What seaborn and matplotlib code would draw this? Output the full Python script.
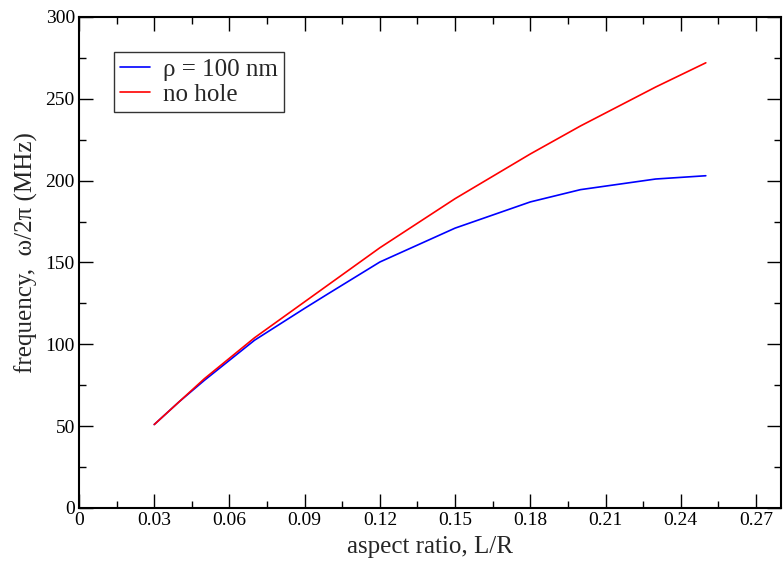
import matplotlib
matplotlib.use("Agg")
import matplotlib.pyplot as plt
import seaborn as sns
import pandas as pd
from matplotlib.ticker import MultipleLocator

# Data
x_hole = [0.03, 0.04, 0.05, 0.07, 0.09, 0.10, 0.12, 0.15, 0.18, 0.20, 0.23, 0.25]
y_hole = [51, 65, 78, 102.5, 122, 131.5, 150.3, 171, 187, 194.5, 201, 203]
x_nohole = [0.03, 0.04, 0.05, 0.07, 0.09, 0.10, 0.12, 0.15, 0.18, 0.20, 0.23, 0.25]
y_nohole = [51, 65, 79, 104, 126, 137, 159, 189, 216.3, 233.4, 257.2, 272]
series_names = ["ρ = 100 nm", "no hole"]
x_ticks = [0, 0.03, 0.06, 0.09, 0.12, 0.15, 0.18, 0.21, 0.24, 0.27]
x_tick_labels = ["0", "0.03", "0.06", "0.09", "0.12", "0.15", "0.18", "0.21", "0.24", "0.27"]
y_ticks = [0, 50, 100, 150, 200, 250, 300]

df = pd.concat([
    pd.DataFrame({"x": x_hole, "y": y_hole, "series": series_names[0]}),
    pd.DataFrame({"x": x_nohole, "y": y_nohole, "series": series_names[1]}),
])

sns.set_theme(style="ticks")
plt.rcParams['font.family'] = ['Liberation Serif', 'DejaVu Serif']

fig = plt.figure(figsize=(7.84, 5.64), dpi=100)
ax = fig.add_axes([0.1008, 0.0993, 0.8954, 0.8706])

sns.lineplot(data=df, x="x", y="y", hue="series", palette=["#0000ff", "#ff0000"],
             linewidth=1.2, ax=ax, sort=False, estimator=None)

ax.set_xlim(0, 0.28)
ax.set_ylim(0, 300)
ax.set_xticks(x_ticks)
ax.set_xticklabels(x_tick_labels)
ax.set_yticks(y_ticks)
ax.xaxis.set_minor_locator(MultipleLocator(0.015))
ax.yaxis.set_minor_locator(MultipleLocator(25))
ax.tick_params(which="both", direction="in", top=True, right=True, colors="black",
               labelsize=14, pad=3)
ax.tick_params(which="major", length=10, width=1.0)
ax.tick_params(which="minor", length=5, width=1.0)
for s in ax.spines.values():
    s.set_linewidth(1.5)
    s.set_color("black")

ax.set_xlabel("aspect ratio, L/R", fontsize=18, labelpad=5)
ax.set_ylabel("frequency,  ω/2π (MHz)", fontsize=18)
ax.yaxis.set_label_coords(-0.058, 0.52)

leg = ax.legend(loc="upper left", bbox_to_anchor=(0.05, 0.929), frameon=True,
                fancybox=False, edgecolor="black", fontsize=18, handlelength=1.2,
                borderpad=0.25, labelspacing=0.1, handletextpad=0.5, borderaxespad=0)
leg.get_frame().set_linewidth(1.0)
leg.set_title(None)

fig.savefig("out.png", dpi=100)
